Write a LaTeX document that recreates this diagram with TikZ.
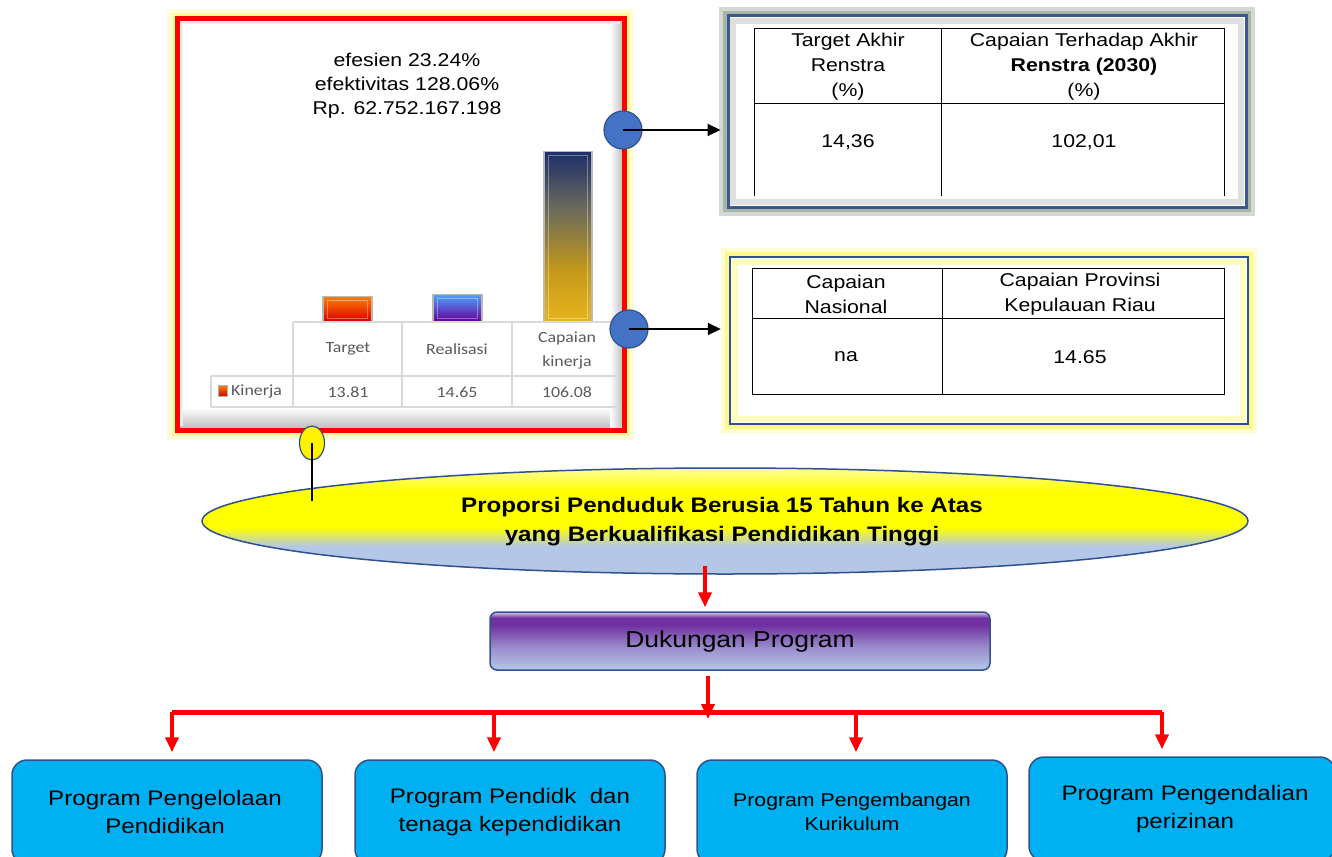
\documentclass[tikz,border=0pt]{standalone}
\usepackage{fontspec}
\setmainfont{Liberation Sans}[FakeStretch=1.15]
\newfontfamily\calib{Carlito}[FakeStretch=1.15]
\usetikzlibrary{shapes.geometric,arrows.meta,calc}
\definecolor{bordblue}{HTML}{2F528F}
\definecolor{circblue}{HTML}{4472C4}
\definecolor{cyanbox}{HTML}{00B0F0}
\definecolor{lblue}{HTML}{B4C7E7}
\definecolor{purp}{HTML}{7030A0}
\definecolor{lav}{HTML}{D9C8EE}
\definecolor{tgray}{HTML}{595959}
\definecolor{lgrid}{HTML}{D9D9D9}
\definecolor{navyb}{HTML}{1C2F6B}
\definecolor{goldb}{HTML}{E6B41E}
\definecolor{midb}{HTML}{6B6A5A}
\definecolor{glowg}{HTML}{A9B5A9}
\definecolor{glowg2}{HTML}{D3DAD3}
\pgfdeclareverticalshading{ellshade}{100bp}{color(0bp)=(lblue); color(25bp)=(lblue); color(38bp)=(lblue); color(47bp)=(yellow); color(64bp)=(yellow); color(75bp)=(yellow!40!white); color(100bp)=(yellow!40!white)}
\pgfdeclareverticalshading{dukshade}{100bp}{color(0bp)=(lblue); color(25bp)=(lblue); color(45bp)=(lblue!60!purp); color(64bp)=(purp); color(70bp)=(purp); color(75bp)=(lav); color(100bp)=(lav)}
\pgfdeclareverticalshading{capshade}{100bp}{color(0bp)=(goldb); color(25bp)=(goldb); color(40bp)=(goldb!85!black); color(58bp)=(midb); color(75bp)=(navyb); color(100bp)=(navyb)}
\begin{document}
\begin{tikzpicture}[x=1pt,y=-1pt,
  bar/.style={draw=gray!55, line width=1.5pt, inner sep=0pt, anchor=south},
  dot/.style={circle, fill=circblue, draw=bordblue, line width=1.2pt, minimum size=38pt, inner sep=0pt},
  blkarr/.style={line width=2pt, -{Triangle[length=13pt,width=12pt]}},
  redarr/.style={red, line width=4pt, -{Triangle[length=15pt,width=13pt]}},
  prog/.style={rounded corners=15pt, fill=cyanbox, draw=bordblue, line width=1.5pt, minimum width=310pt, minimum height=104pt, inner sep=0pt},
  progtxt/.style={align=center, font=\fontsize{21}{28}\selectfont},
  tbltxt/.style={align=center, font=\fontsize{18.5}{25}\selectfont},
  cht/.style={text=tgray, align=center, font=\calib\fontsize{15.5}{24}\selectfont}
]
\useasboundingbox (0,0) rectangle (1332,856);
\clip (0,0) rectangle (1332,856);
\fill[white] (0,0) rectangle (1332,856);

% ---------- chart frame ----------
\draw[line width=20pt, yellow!15] (177,19) rectangle (624,430);
\draw[line width=11pt, yellow!40] (177,19) rectangle (624,430);
\node[draw=red, line width=5pt, fill=white, minimum width=447pt, minimum height=411pt, inner sep=0pt] (chart) at (400.5,224.5) {};
\shade[top color=white, bottom color=gray!50] (180,408) rectangle (610,427.5);
\shade[left color=white, right color=gray!45] (610,22) rectangle (621.5,427.5);
\draw[gray!15, line width=3pt] (181.5,426) -- (181.5,22.5) -- (620,22.5);

\node[align=center, font=\fontsize{18.5}{24}\selectfont] (title) at (407,86) {efesien 23.24\%\\efektivitas 128.06\%\\Rp. 62.752.167.198};

% bars
\node[bar, minimum width=49pt, minimum height=25pt, top color=orange, bottom color=red!85!black] (bt) at (347.5,322) {};
\node[bar, minimum width=49pt, minimum height=27pt, top color=cyan!50!blue!70!white, bottom color=violet!80!blue] (br) at (457.5,322) {};
\node[bar, minimum width=48pt, minimum height=170pt, shading=capshade] (bc) at (568,322) {};
\foreach \b in {bt,br,bc}{
  \draw[white, opacity=0.35, line width=1pt] ([shift={(5,-4)}]\b.south west) rectangle ([shift={(-5,5)}]\b.north east);
}

% chart data table
\draw[lgrid, line width=1.3pt] (293,322) -- (620,322) (211,376) -- (620,376) (211,407) -- (620,407)
  (211,376) -- (211,407) (293,322) -- (293,407) (402,322) -- (402,407) (512,322) -- (512,407);
\node[cht] (ct1) at (348,349) {Target};
\node[cht] (ct2) at (457,349) {Realisasi};
\node[cht] (ct3) at (567,350) {Capaian\\kinerja};
\node[draw=gray!60, line width=0.8pt, minimum width=9pt, minimum height=11pt, inner sep=0pt, top color=orange, bottom color=red!80!black] (leg) at (223,391) {};
\node[cht, anchor=west, inner sep=0pt] (ck) at (231,391.5) {Kinerja};
\node[cht] (cv1) at (348,392) {13.81};
\node[cht] (cv2) at (457,392) {14.65};
\node[cht] (cv3) at (567,392) {106.08};

% ---------- top right table ----------
\draw[line width=18pt, glowg2] (728,16) rectangle (1246,207);
\draw[line width=10pt, glowg] (728,16) rectangle (1246,207);
\node[draw=bordblue!85!gray, line width=3pt, fill=white, minimum width=518pt, minimum height=191pt, inner sep=0pt] (tb1) at (987,111.5) {};
\draw[gray!25, line width=6pt] (733,21) rectangle (1241,202);
\draw[black, line width=1pt] (754,196) -- (754,29) -- (1224,29) -- (1224,196) (941,29) -- (941,196) (754,104) -- (1224,104);
\node[tbltxt] (h11) at (848,67) {Target Akhir\\Renstra\\(\%)};
\node[tbltxt] (h12) at (1084,67) {Capaian Terhadap Akhir\\\textbf{Renstra (2030)}\\(\%)};
\node[tbltxt] (v11) at (848,142) {14,36};
\node[tbltxt] (v12) at (1084,142) {102,01};

% ---------- second table ----------
\draw[line width=18pt, yellow!18] (730,257) rectangle (1248,424);
\draw[line width=10pt, yellow!45] (730,257) rectangle (1248,424);
\node[draw=bordblue, line width=2.5pt, fill=white, minimum width=518pt, minimum height=167pt, inner sep=0pt] (tb2) at (989,340.5) {};
\draw[yellow!25, line width=6pt] (735,262) rectangle (1243,419);
\draw[black, line width=1pt] (752,268) rectangle (1224,394) (942,268) -- (942,394) (752,318) -- (1224,318);
\node[tbltxt] (h21) at (846,294) {Capaian\\Nasional};
\node[tbltxt] (h22) at (1080,294) {Capaian Provinsi\\Kepulauan Riau};
\node[tbltxt] (v21) at (846,357) {na};
\node[tbltxt] (v22) at (1080,357) {14.65};

% circles and arrows
\node[dot] (c1) at (623,130) {};
\node[dot] (c2) at (629,329) {};
\draw[blkarr] (c1.center) -- ([xshift=-6pt]tb1.west |- c1.center);
\draw[blkarr] (c2.center) -- ([xshift=-8pt]tb2.west |- c2.center);

% ---------- big ellipse ----------
\node[ellipse, shading=ellshade, draw=bordblue, line width=1.5pt, minimum width=1046pt, minimum height=106pt, inner sep=0pt] (ell) at (725,521) {};
\node[align=center, font=\bfseries\fontsize{21}{29}\selectfont] (elltxt) at (722,522) {Proporsi Penduduk Berusia 15 Tahun ke Atas\\yang Berkualifikasi Pendidikan Tinggi};

\node[ellipse, fill=yellow, draw=bordblue, line width=1.2pt, minimum width=25pt, minimum height=34pt, inner sep=0pt] (ys) at (312,443) {};
\coordinate (le) at (312,501);
\draw[line width=2.5pt] (ys.center) -- (le);

% ---------- Dukungan Program ----------
\node[rounded corners=7pt, shading=dukshade, draw=bordblue, line width=1.5pt, minimum width=500pt, minimum height=58pt, inner sep=0pt] (duk) at (740,641) {};
\node[font=\fontsize{23}{28}\selectfont] (duktxt) at (740,642) {Dukungan Program};

\coordinate (r1) at (705,566);
\draw[redarr] (r1) -- ($(r1 |- duk.north)+(0,-4)$);

% tree
\coordinate (hl) at (172,712);
\coordinate (hr) at (1162,712);
\coordinate (j2) at (494,712);
\coordinate (j3) at (856,712);
\draw[red, line width=5pt] (hl) -- (hr);
\coordinate (r2) at (708,676);
\draw[redarr] (r2) -- (708,719);

% bottom boxes
\node[prog] (b1) at (167,812) {};
\node[prog] (b2) at (510,812) {};
\node[prog] (b3) at (852,812) {};
\node[prog, minimum width=306pt] (b4) at (1182,809) {};
\node[progtxt] (t1) at (165,812) {Program Pengelolaan\\Pendidikan};
\node[progtxt] (t2) at (510,812) {Program Pendidk \ dan\\tenaga kependidikan};
\node[progtxt, font=\fontsize{18.5}{24}\selectfont] (t3) at (852,812) {Program Pengembangan\\Kurikulum};
\node[progtxt] (t4) at (1185,809) {Program Pengendalian\\perizinan};

\draw[redarr] (hl) -- ($(hl |- b1.north)+(0,-7)$);
\draw[redarr] (j2) -- ($(j2 |- b2.north)+(0,-7)$);
\draw[redarr] (j3) -- ($(j3 |- b3.north)+(0,-7)$);
\draw[redarr] (hr) -- ($(hr |- b4.north)+(0,-7)$);
\end{tikzpicture}
\end{document}
